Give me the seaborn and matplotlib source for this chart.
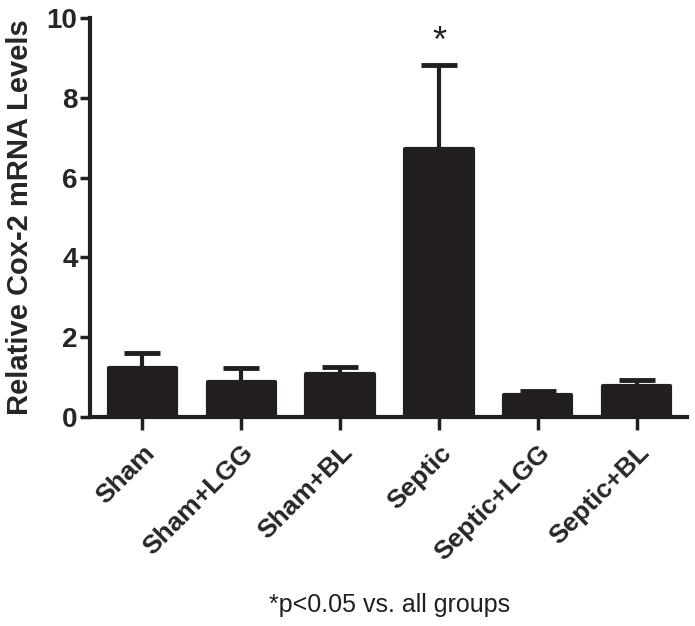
import matplotlib
matplotlib.use("Agg")
import matplotlib.pyplot as plt
import seaborn as sns
import pandas as pd
import numpy as np

groups = ["Sham", "Sham+LGG", "Sham+BL", "Septic", "Septic+LGG", "Septic+BL"]
means = [1.23, 0.88, 1.07, 6.72, 0.55, 0.78]
sem = [0.37, 0.34, 0.18, 2.11, 0.10, 0.15]
yticks = [0, 2, 4, 6, 8, 10]

sns.set_style("ticks")
plt.rcParams["font.family"] = ["Liberation Sans", "DejaVu Sans"]

df = pd.DataFrame({"group": groups, "value": means})

fig = plt.figure(figsize=(6.95, 6.26), dpi=100)
ax = fig.add_axes([0.1295, 0.334, 0.859, 0.637])

bar_color = "#231f20"
sns.barplot(data=df, x="group", y="value", color=bar_color, width=0.68,
            edgecolor=bar_color, linewidth=3, errorbar=None, ax=ax, saturation=1)
for p in ax.patches:
    p.set_joinstyle("round")
    p.set_zorder(3)

xs = np.arange(len(groups))
ax.errorbar(xs, means, yerr=[np.zeros(len(sem)), sem], fmt="none",
            ecolor=bar_color, elinewidth=3, capsize=13, capthick=3.5, zorder=2)

ax.text(3, 9.4, "*", ha="center", va="center", fontsize=26, color=bar_color)

ax.set_ylim(0, 10)
ax.set_xlim(-0.53, 5.51)
ax.set_yticks(yticks)
ax.set_yticklabels([str(t) for t in yticks], fontsize=20, fontweight="bold")
ax.set_xticks(xs)
ax.set_xticklabels(groups, rotation=45, ha="right", rotation_mode="anchor",
                   fontsize=19, fontweight="bold")
ax.set_xlabel("")
ax.set_ylabel("Relative Cox-2 mRNA Levels", fontsize=21, fontweight="bold")
ax.yaxis.set_label_coords(-0.093, 0.5)

for s in ["top", "right"]:
    ax.spines[s].set_visible(False)
for s in ["left", "bottom"]:
    ax.spines[s].set_linewidth(3)
    ax.spines[s].set_color(bar_color)
ax.tick_params(axis="y", length=7, width=2.5, color=bar_color, pad=2)
ax.tick_params(axis="x", length=9, width=2.5, color=bar_color, pad=8)

fig.text(0.561, 0.034, "*p<0.05 vs. all groups", ha="center", va="center",
         fontsize=18, color=bar_color)

fig.savefig("out.png", dpi=100)
